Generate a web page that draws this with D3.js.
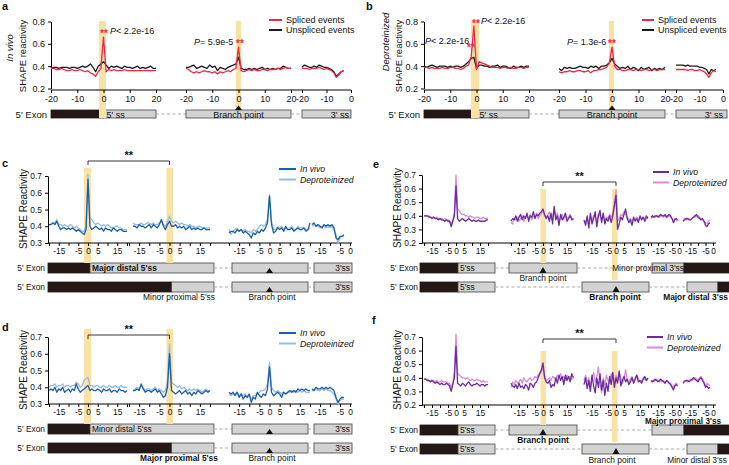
<!DOCTYPE html>
<html><head><meta charset="utf-8">
<script src="https://cdn.jsdelivr.net/npm/d3@7"></script>
<style>body{margin:0;background:#fff} text{font-family:"Liberation Sans",Arial,sans-serif}</style>
</head><body>
<script>
// ---------------- DATA ----------------
// Panel a (In vivo): positions -20..20 (seg1, seg2), -20..-3 (seg3)
const aSplicedSeg1 = [0.38,0.38,0.37,0.37,0.38,0.37,0.36,0.36,0.37,0.36,0.36,0.37,0.36,0.35,0.36,0.34,0.33,0.31,0.35,0.38,0.66,0.35,0.37,0.36,0.37,0.36,0.36,0.36,0.37,0.36,0.36,0.36,0.36,0.36,0.36,0.36,0.36,0.36,0.36,0.36,0.36];
const aUnsplicedSeg1 = [0.38,0.39,0.39,0.38,0.39,0.39,0.39,0.38,0.39,0.39,0.38,0.39,0.40,0.39,0.40,0.42,0.39,0.35,0.40,0.42,0.44,0.41,0.38,0.40,0.39,0.40,0.39,0.38,0.40,0.39,0.39,0.38,0.39,0.40,0.38,0.39,0.38,0.39,0.40,0.38,0.38];
const aSplicedSeg2 = [0.38,0.37,0.35,0.34,0.35,0.34,0.35,0.36,0.35,0.35,0.34,0.35,0.33,0.35,0.34,0.35,0.36,0.35,0.37,0.38,0.57,0.36,0.35,0.36,0.37,0.36,0.37,0.36,0.36,0.37,0.37,0.36,0.37,0.37,0.37,0.38,0.37,0.38,0.39,0.38,0.38];
const aUnsplicedSeg2 = [0.39,0.39,0.40,0.41,0.38,0.39,0.40,0.39,0.38,0.41,0.39,0.40,0.36,0.39,0.38,0.37,0.39,0.40,0.41,0.42,0.48,0.38,0.37,0.37,0.38,0.37,0.38,0.37,0.38,0.39,0.37,0.38,0.37,0.38,0.37,0.38,0.38,0.40,0.39,0.38,0.38];
const aSplicedSeg3 = [0.38,0.38,0.38,0.37,0.38,0.38,0.38,0.39,0.38,0.37,0.38,0.37,0.36,0.34,0.30,0.32,0.35,0.36];
const aUnsplicedSeg3 = [0.39,0.41,0.40,0.39,0.39,0.40,0.39,0.41,0.40,0.39,0.39,0.38,0.37,0.35,0.31,0.33,0.35,0.36];
// Panel b (Deproteinized)
const bSplicedSeg1 = [0.39,0.39,0.38,0.39,0.38,0.38,0.38,0.39,0.38,0.38,0.39,0.39,0.38,0.38,0.37,0.38,0.40,0.41,0.49,0.76,0.37,0.44,0.43,0.42,0.41,0.40,0.39,0.39,0.39,0.38,0.39,0.39,0.38,0.39,0.38,0.38,0.39,0.39,0.38,0.39,0.39];
const bUnsplicedSeg1 = [0.40,0.39,0.40,0.41,0.40,0.39,0.40,0.40,0.40,0.39,0.40,0.39,0.40,0.40,0.39,0.40,0.42,0.44,0.47,0.48,0.38,0.41,0.41,0.40,0.40,0.39,0.40,0.40,0.41,0.39,0.40,0.40,0.39,0.38,0.40,0.39,0.39,0.40,0.39,0.40,0.40];
const bSplicedSeg2 = [0.35,0.34,0.35,0.35,0.36,0.35,0.35,0.36,0.36,0.35,0.35,0.36,0.34,0.36,0.36,0.37,0.37,0.38,0.39,0.43,0.57,0.40,0.37,0.37,0.36,0.36,0.37,0.37,0.36,0.37,0.37,0.36,0.37,0.37,0.36,0.37,0.37,0.36,0.37,0.37,0.37];
const bUnsplicedSeg2 = [0.38,0.36,0.39,0.38,0.39,0.38,0.38,0.39,0.40,0.39,0.39,0.38,0.40,0.39,0.40,0.38,0.40,0.40,0.41,0.43,0.47,0.42,0.40,0.38,0.39,0.38,0.40,0.37,0.39,0.38,0.36,0.39,0.37,0.38,0.39,0.36,0.38,0.37,0.38,0.37,0.39];
const bSplicedSeg3 = [0.37,0.37,0.37,0.37,0.37,0.36,0.37,0.37,0.36,0.36,0.37,0.36,0.35,0.33,0.30,0.34,0.36,0.35];
const bUnsplicedSeg3 = [0.41,0.41,0.41,0.41,0.40,0.41,0.40,0.40,0.40,0.40,0.39,0.39,0.38,0.37,0.33,0.37,0.36,0.37];
// Panel c: seg1 -20..20, seg2 -18..20, seg3 -20..20, seg4 -19..-3
const cVivoSeg1 = [0.41,0.41,0.42,0.41,0.43,0.40,0.38,0.39,0.39,0.38,0.39,0.38,0.39,0.38,0.37,0.38,0.37,0.36,0.35,0.38,0.68,0.40,0.38,0.39,0.40,0.39,0.38,0.39,0.37,0.39,0.38,0.38,0.37,0.39,0.38,0.37,0.38,0.38,0.37,0.37,0.37];
const cDeproSeg1 = [0.41,0.41,0.42,0.42,0.44,0.41,0.41,0.40,0.41,0.40,0.40,0.41,0.40,0.39,0.40,0.39,0.38,0.37,0.37,0.40,0.71,0.45,0.44,0.42,0.41,0.42,0.41,0.40,0.41,0.40,0.41,0.40,0.39,0.39,0.40,0.40,0.39,0.39,0.38,0.38,0.38];
const cVivoSeg2 = [0.40,0.40,0.39,0.41,0.40,0.40,0.39,0.40,0.41,0.39,0.41,0.40,0.39,0.41,0.44,0.40,0.38,0.41,0.43,0.40,0.40,0.41,0.39,0.40,0.39,0.40,0.38,0.39,0.40,0.38,0.39,0.38,0.39,0.38,0.38,0.39,0.38,0.38,0.38];
const cDeproSeg2 = [0.42,0.41,0.41,0.41,0.42,0.41,0.41,0.42,0.42,0.41,0.42,0.41,0.41,0.42,0.43,0.41,0.40,0.43,0.46,0.43,0.42,0.43,0.42,0.41,0.42,0.41,0.41,0.40,0.41,0.40,0.40,0.39,0.40,0.40,0.39,0.39,0.39,0.39,0.39];
const cVivoSeg3 = [0.36,0.37,0.37,0.36,0.38,0.37,0.38,0.36,0.37,0.36,0.35,0.33,0.36,0.35,0.37,0.36,0.38,0.37,0.39,0.42,0.58,0.41,0.36,0.37,0.39,0.38,0.39,0.37,0.40,0.38,0.38,0.39,0.37,0.38,0.39,0.38,0.38,0.39,0.37,0.38,0.42];
const cDeproSeg3 = [0.38,0.35,0.37,0.38,0.39,0.37,0.38,0.37,0.38,0.37,0.37,0.36,0.38,0.37,0.38,0.40,0.41,0.40,0.41,0.44,0.59,0.43,0.38,0.38,0.40,0.39,0.40,0.38,0.39,0.38,0.39,0.40,0.38,0.38,0.40,0.39,0.39,0.39,0.38,0.38,0.39];
const cVivoSeg4 = [0.41,0.42,0.40,0.41,0.40,0.39,0.41,0.40,0.41,0.40,0.41,0.39,0.33,0.32,0.34,0.34,0.35];
const cDeproSeg4 = [0.40,0.41,0.40,0.40,0.39,0.40,0.40,0.39,0.40,0.39,0.40,0.38,0.35,0.30,0.33,0.34,0.34];
// Panel d
const dVivoSeg1 = [0.38,0.39,0.38,0.40,0.37,0.39,0.38,0.40,0.37,0.38,0.39,0.37,0.39,0.38,0.42,0.39,0.37,0.38,0.39,0.40,0.41,0.38,0.39,0.38,0.38,0.39,0.38,0.37,0.39,0.38,0.38,0.39,0.37,0.38,0.38,0.37,0.39,0.38,0.38,0.37,0.38];
const dDeproSeg1 = [0.40,0.41,0.41,0.42,0.40,0.41,0.41,0.42,0.40,0.41,0.41,0.40,0.41,0.41,0.43,0.42,0.40,0.41,0.44,0.45,0.46,0.41,0.41,0.40,0.41,0.41,0.40,0.40,0.41,0.40,0.40,0.41,0.40,0.40,0.41,0.40,0.40,0.41,0.40,0.40,0.40];
const dVivoSeg2 = [0.38,0.38,0.39,0.38,0.42,0.39,0.37,0.38,0.38,0.37,0.38,0.39,0.37,0.38,0.36,0.34,0.35,0.40,0.60,0.38,0.37,0.36,0.37,0.38,0.36,0.37,0.38,0.36,0.37,0.35,0.37,0.36,0.38,0.37,0.36,0.37,0.38,0.37,0.38];
const dDeproSeg2 = [0.38,0.39,0.40,0.39,0.41,0.40,0.38,0.39,0.39,0.38,0.39,0.40,0.38,0.39,0.38,0.37,0.38,0.44,0.66,0.43,0.42,0.41,0.40,0.41,0.39,0.40,0.39,0.38,0.39,0.38,0.39,0.38,0.39,0.38,0.37,0.38,0.39,0.38,0.38];
const dVivoSeg3 = [0.37,0.36,0.37,0.35,0.37,0.34,0.36,0.33,0.35,0.34,0.36,0.31,0.34,0.33,0.37,0.35,0.34,0.36,0.35,0.39,0.52,0.37,0.35,0.36,0.37,0.36,0.34,0.37,0.36,0.37,0.38,0.37,0.38,0.37,0.39,0.38,0.39,0.38,0.39,0.38,0.38];
const dDeproSeg3 = [0.36,0.35,0.36,0.36,0.37,0.35,0.36,0.35,0.36,0.34,0.35,0.33,0.35,0.35,0.36,0.37,0.38,0.38,0.39,0.42,0.55,0.40,0.38,0.37,0.38,0.37,0.36,0.37,0.36,0.37,0.37,0.38,0.37,0.38,0.37,0.38,0.37,0.38,0.37,0.37,0.37];
const dVivoSeg4 = [0.39,0.38,0.40,0.39,0.39,0.40,0.39,0.40,0.39,0.40,0.39,0.38,0.34,0.31,0.33,0.34,0.34];
const dDeproSeg4 = [0.38,0.38,0.39,0.38,0.38,0.39,0.38,0.39,0.38,0.38,0.37,0.36,0.33,0.30,0.32,0.33,0.33];
// Panel e: seg1 -20..20, seg2 -20..19, seg3 -20..20, seg4 -20..-1, seg5 -20..-2
const eVivoSeg1 = [0.40,0.40,0.40,0.39,0.39,0.38,0.39,0.38,0.38,0.37,0.38,0.37,0.37,0.36,0.37,0.36,0.36,0.32,0.36,0.40,0.62,0.38,0.36,0.37,0.38,0.37,0.36,0.37,0.38,0.37,0.36,0.37,0.36,0.36,0.37,0.36,0.36,0.36,0.36,0.37,0.37];
const eDeproSeg1 = [0.40,0.40,0.40,0.40,0.39,0.39,0.39,0.38,0.39,0.38,0.38,0.38,0.37,0.38,0.37,0.37,0.36,0.34,0.37,0.42,0.70,0.45,0.44,0.42,0.41,0.41,0.40,0.40,0.39,0.40,0.39,0.39,0.38,0.39,0.39,0.38,0.38,0.39,0.38,0.38,0.38];
const eVivoSeg2 = [0.36,0.38,0.37,0.40,0.36,0.39,0.41,0.37,0.40,0.38,0.42,0.36,0.40,0.39,0.43,0.38,0.41,0.40,0.42,0.43,0.45,0.41,0.38,0.40,0.36,0.42,0.34,0.47,0.37,0.40,0.33,0.41,0.37,0.39,0.42,0.36,0.38,0.40,0.37,0.38];
const eDeproSeg2 = [0.35,0.34,0.38,0.37,0.39,0.36,0.38,0.40,0.36,0.39,0.40,0.38,0.41,0.37,0.40,0.39,0.42,0.38,0.40,0.42,0.43,0.40,0.39,0.41,0.43,0.38,0.40,0.44,0.39,0.42,0.36,0.38,0.41,0.37,0.40,0.38,0.39,0.41,0.38,0.37];
const eVivoSeg3 = [0.37,0.33,0.40,0.31,0.42,0.34,0.38,0.43,0.32,0.40,0.44,0.35,0.42,0.34,0.38,0.36,0.40,0.35,0.40,0.47,0.55,0.30,0.34,0.39,0.37,0.41,0.45,0.38,0.35,0.37,0.33,0.39,0.36,0.38,0.35,0.40,0.37,0.39,0.36,0.40,0.38];
const eDeproSeg3 = [0.35,0.36,0.38,0.34,0.39,0.37,0.40,0.39,0.35,0.41,0.40,0.37,0.40,0.36,0.39,0.38,0.41,0.39,0.42,0.50,0.59,0.36,0.38,0.41,0.40,0.43,0.41,0.39,0.37,0.38,0.36,0.38,0.37,0.39,0.37,0.38,0.38,0.39,0.37,0.38,0.38];
const eVivoSeg4 = [0.39,0.40,0.39,0.40,0.40,0.39,0.40,0.41,0.40,0.40,0.41,0.39,0.40,0.41,0.40,0.38,0.35,0.37,0.38,0.37];
const eDeproSeg4 = [0.38,0.39,0.39,0.39,0.40,0.40,0.39,0.40,0.40,0.39,0.40,0.40,0.39,0.40,0.39,0.38,0.36,0.38,0.37,0.36];
const eVivoSeg5 = [0.36,0.37,0.38,0.38,0.37,0.37,0.38,0.39,0.40,0.41,0.39,0.38,0.37,0.38,0.36,0.33,0.32,0.34,0.35];
const eDeproSeg5 = [0.37,0.38,0.37,0.38,0.38,0.37,0.38,0.39,0.39,0.40,0.40,0.39,0.38,0.37,0.36,0.35,0.34,0.36,0.37];
// Panel f
const fVivoSeg1 = [0.39,0.39,0.38,0.38,0.37,0.38,0.37,0.36,0.37,0.36,0.35,0.36,0.35,0.35,0.36,0.35,0.34,0.30,0.35,0.40,0.63,0.36,0.35,0.34,0.36,0.35,0.34,0.36,0.37,0.35,0.34,0.35,0.35,0.36,0.35,0.34,0.35,0.35,0.34,0.35,0.35];
const fDeproSeg1 = [0.39,0.39,0.39,0.38,0.38,0.38,0.38,0.37,0.38,0.37,0.37,0.38,0.37,0.37,0.37,0.36,0.36,0.33,0.37,0.45,0.72,0.43,0.42,0.41,0.40,0.40,0.39,0.40,0.39,0.38,0.39,0.38,0.38,0.39,0.38,0.38,0.37,0.38,0.37,0.37,0.37];
const fVivoSeg2 = [0.36,0.34,0.33,0.35,0.32,0.36,0.33,0.34,0.32,0.35,0.34,0.31,0.36,0.35,0.33,0.36,0.37,0.40,0.43,0.46,0.51,0.40,0.37,0.36,0.38,0.33,0.35,0.34,0.40,0.36,0.42,0.38,0.41,0.35,0.42,0.38,0.41,0.37,0.43,0.40];
const fDeproSeg2 = [0.33,0.37,0.35,0.38,0.36,0.37,0.39,0.36,0.40,0.38,0.37,0.39,0.40,0.38,0.39,0.41,0.40,0.42,0.44,0.45,0.47,0.41,0.38,0.39,0.40,0.38,0.41,0.40,0.39,0.42,0.40,0.43,0.39,0.41,0.38,0.42,0.40,0.41,0.39,0.40];
const fVivoSeg3 = [0.35,0.40,0.32,0.38,0.30,0.42,0.34,0.29,0.40,0.33,0.43,0.31,0.38,0.27,0.36,0.30,0.41,0.35,0.44,0.33,0.40,0.36,0.45,0.34,0.38,0.41,0.37,0.39,0.35,0.37,0.40,0.36,0.39,0.42,0.37,0.38,0.36,0.39,0.41,0.38,0.40];
const fDeproSeg3 = [0.38,0.42,0.36,0.40,0.34,0.39,0.44,0.37,0.41,0.48,0.36,0.29,0.40,0.35,0.42,0.38,0.36,0.43,0.39,0.37,0.42,0.38,0.44,0.40,0.36,0.39,0.46,0.38,0.37,0.39,0.41,0.38,0.40,0.42,0.39,0.37,0.38,0.40,0.39,0.38,0.39];
const fVivoSeg4 = [0.38,0.37,0.38,0.39,0.38,0.37,0.38,0.39,0.38,0.37,0.36,0.38,0.37,0.36,0.35,0.33,0.31,0.34,0.35,0.34];
const fDeproSeg4 = [0.37,0.38,0.37,0.38,0.39,0.38,0.37,0.38,0.37,0.38,0.37,0.37,0.38,0.36,0.36,0.34,0.33,0.35,0.36,0.35];
const fVivoSeg5 = [0.36,0.37,0.38,0.38,0.37,0.38,0.39,0.40,0.39,0.38,0.37,0.39,0.40,0.38,0.36,0.33,0.34,0.32,0.33];
const fDeproSeg5 = [0.37,0.38,0.38,0.37,0.38,0.39,0.38,0.39,0.40,0.39,0.38,0.40,0.41,0.39,0.37,0.34,0.36,0.35,0.34];

// tick values
const ticksAB = [-20,-10,0,10,20], ticksAB3 = [-20,-10,0];
const ticksFull = [-20,-15,-10,-5,0,5,10,15,20], labelsFull = [-15,-5,0,5,15];
const ticksEnd = [-20,-15,-10,-5,0], labelsEnd = [-15,-5,0];

// ---------------- DRAWING ----------------
const RED="#ee2745", BLK="#1a1a1a", BLUE="#1c5ea7", LBLUE="#94bce5", PURP="#6a2b9e", LPURP="#d88cd8", YEL="#fae2a5";
const SM = 8.4; // small text size for c-f
const svg = d3.select("body").append("svg").attr("width",729).attr("height",465);
const L = {shapes: svg.append("g"), hl: svg.append("g"), axes: svg.append("g"), lines: svg.append("g"), text: svg.append("g")};

function txt(x, y, s, o={}) {
  const t = L.text.append("text").attr("x",x).attr("y",y).text(s).attr("font-size",o.size||10).attr("fill",o.fill||"#111");
  if (o.anchor) t.attr("text-anchor",o.anchor);
  if (o.bold) t.attr("font-weight","bold");
  if (o.italic) t.attr("font-style","italic");
  return t;
}
function pText(x, y, rest, size) {
  const t = L.text.append("text").attr("x",x).attr("y",y).attr("font-size",size||9).attr("fill","#111");
  t.append("tspan").attr("font-style","italic").text("P");
  t.append("tspan").text(rest);
}
function vText(x, y, s, o={}) {
  const t = L.text.append("text").attr("transform",`translate(${x},${y}) rotate(-90)`).attr("text-anchor","middle")
    .attr("font-size",o.size||10).attr("fill","#111").text(s);
  if (o.italic) t.attr("font-style","italic");
}

function drawPanel(P) {
  const y = d3.scaleLinear().domain(P.yDomain).range(P.yRange);
  const xs = P.segs.map(s => d3.scaleLinear().domain(s.domain).range(s.range));
  (P.hl||[]).forEach(h => {
    const x0 = xs[h.seg](0);
    L.hl.append("rect").attr("x",x0+h.dx[0]).attr("width",h.dx[1]-h.dx[0]).attr("y",h.y0).attr("height",h.y1-h.y0).attr("fill",YEL);
  });
  const ya = L.axes.append("g").attr("transform",`translate(${P.axisX},0)`)
    .call(d3.axisLeft(y).tickValues(P.yTicks).tickFormat(d3.format(".1f")).tickSize(3).tickSizeOuter(0).tickPadding(3));
  ya.selectAll("text").attr("font-size",P.fs).attr("font-family","Liberation Sans, Arial").attr("fill","#111");
  ya.select(".domain").attr("stroke","#000");
  L.axes.append("line").attr("x1",P.axisX).attr("x2",P.axisEnd).attr("y1",P.xAxisY).attr("y2",P.xAxisY).attr("stroke","#000");
  P.segs.forEach((s,i) => {
    const ax = L.axes.append("g").attr("transform",`translate(0,${P.xAxisY})`)
      .call(d3.axisBottom(xs[i]).tickValues(s.ticks).tickSize(3).tickPadding(P.tp||3)
        .tickFormat(d => (s.labels||s.ticks).includes(d) ? String(d) : ""));
    ax.select(".domain").remove();
    ax.selectAll("text").attr("font-size",P.fs).attr("font-family","Liberation Sans, Arial").attr("fill","#111");
  });
  P.series.forEach(sr => {
    sr.parts.forEach(pt => {
      const line = d3.line().x((d,j) => xs[pt.seg](pt.start + j)).y(d => y(d));
      L.lines.append("path").datum(pt.values).attr("d",line).attr("fill","none")
        .attr("stroke",sr.color).attr("stroke-width",sr.w||1.3).attr("stroke-linejoin","round");
    });
  });
  return {y, xs};
}

function box(x0, x1, y, h, fill) {
  L.shapes.append("rect").attr("x",x0).attr("y",y).attr("width",x1-x0).attr("height",h)
    .attr("fill",fill).attr("stroke", fill==="#231815" ? "#231815" : "#444").attr("stroke-width",0.8);
}
function dash(x0, x1, y) {
  L.shapes.append("line").attr("x1",x0).attr("x2",x1).attr("y1",y).attr("y2",y)
    .attr("stroke","#aaa").attr("stroke-width",1.2).attr("stroke-dasharray","3,2.5");
}
function tri(x, yTop, yBot) {
  L.text.append("path").attr("d",`M${x-3.5},${yBot}L${x+3.5},${yBot}L${x},${yTop}Z`).attr("fill","#111");
}
function legend(x, y1, y2, c1, c2, s1, s2, italic, len, size) {
  L.text.append("line").attr("x1",x).attr("x2",x+len).attr("y1",y1).attr("y2",y1).attr("stroke",c1).attr("stroke-width",2);
  L.text.append("line").attr("x1",x).attr("x2",x+len).attr("y1",y2).attr("y2",y2).attr("stroke",c2).attr("stroke-width",2);
  txt(x+len+4, y1+3.3, s1, {italic, size});
  txt(x+len+4, y2+3.3, s2, {italic, size});
}
function bracket(x0, x1, y) {
  L.text.append("path").attr("d",`M${x0},${y+4}V${y}H${x1}V${y+4}`).attr("fill","none").attr("stroke","#222").attr("stroke-width",0.9);
  txt((x0+x1)/2, y-2, "**", {anchor:"middle", bold:true, size:11});
}

// ---------- Panel a ----------
const pa = drawPanel({
  yDomain:[0.2,0.8], yRange:[88.5,21.5], yTicks:[0.2,0.4,0.6,0.8], axisX:51, axisEnd:351, xAxisY:90, fs:9,
  segs:[{domain:[-20,20],range:[51,156],ticks:ticksAB},{domain:[-20,20],range:[186,291],ticks:ticksAB},{domain:[-20,0],range:[302,351],ticks:ticksAB3}],
  hl:[{seg:0,dx:[-4.5,2.5],y0:21,y1:118},{seg:1,dx:[-2.5,2.5],y0:21,y1:110}],
  series:[
    {color:BLK, parts:[{seg:0,start:-20,values:aUnsplicedSeg1},{seg:1,start:-20,values:aUnsplicedSeg2},{seg:2,start:-20,values:aUnsplicedSeg3}]},
    {color:RED, parts:[{seg:0,start:-20,values:aSplicedSeg1},{seg:1,start:-20,values:aSplicedSeg2},{seg:2,start:-20,values:aSplicedSeg3}]}
  ]
});
txt(2, 10, "a", {bold:true, size:11});
vText(13, 48, "In vivo", {italic:true, size:9.5});
vText(26, 56, "SHAPE reactivity", {size:9.5});
legend(269, 20, 30, RED, BLK, "Spliced events", "Unspliced events", false, 13, 9);
txt(104, 37, "**", {anchor:"middle", fill:RED, bold:true, size:10});
pText(110, 34, "< 2.2e-16");
pText(194, 45, "= 5.9e-5");
txt(240, 47, "**", {anchor:"middle", fill:RED, bold:true, size:10});
txt(47, 117.5, "5' Exon", {anchor:"end", size:9.5});
box(51, pa.xs[0](0), 110, 8, "#231815");
box(pa.xs[0](0), 156, 110, 8, "#d2d2d2"); txt(pa.xs[0](0)+3, 117.5, "5' ss", {size:9});
dash(156, 186, 114);
box(186, 291, 110, 8, "#d2d2d2"); txt(pa.xs[1](0), 117.5, "Branch point", {anchor:"middle", size:9});
tri(pa.xs[1](0), 105.5, 110);
dash(291, 302, 114);
box(302, 351, 110, 8, "#d2d2d2"); txt(349, 117.5, "3' ss", {anchor:"end", size:9});

// ---------- Panel b ----------
const pb = drawPanel({
  yDomain:[0.2,0.8], yRange:[88.5,21.5], yTicks:[0.2,0.4,0.6,0.8], axisX:424, axisEnd:723, xAxisY:90, fs:9,
  segs:[{domain:[-20,20],range:[424,529],ticks:ticksAB},{domain:[-20,20],range:[559,665],ticks:ticksAB},{domain:[-20,0],range:[676,723],ticks:ticksAB3}],
  hl:[{seg:0,dx:[-5.5,2.5],y0:21,y1:118},{seg:1,dx:[-3,2],y0:21,y1:110}],
  series:[
    {color:BLK, parts:[{seg:0,start:-20,values:bUnsplicedSeg1},{seg:1,start:-20,values:bUnsplicedSeg2},{seg:2,start:-20,values:bUnsplicedSeg3}]},
    {color:RED, parts:[{seg:0,start:-20,values:bSplicedSeg1},{seg:1,start:-20,values:bSplicedSeg2},{seg:2,start:-20,values:bSplicedSeg3}]}
  ]
});
txt(366, 10, "b", {bold:true, size:11});
vText(389, 42, "Deproteinized", {italic:true, size:9.5});
vText(402, 56, "SHAPE reactivity", {size:9.5});
legend(642, 20, 30, RED, BLK, "Spliced events", "Unspliced events", false, 12, 9);
txt(476, 27, "**", {anchor:"middle", fill:RED, bold:true, size:10});
pText(481, 24, "< 2.2e-16");
pText(425, 44, "< 2.2e-16");
txt(471, 51, "**", {anchor:"middle", fill:RED, bold:true, size:10});
pText(567, 45, "= 1.3e-6");
txt(612, 47, "**", {anchor:"middle", fill:RED, bold:true, size:10});
txt(420, 117.5, "5' Exon", {anchor:"end", size:9.5});
box(424, pb.xs[0](0), 110, 8, "#231815");
box(pb.xs[0](0), 529, 110, 8, "#d2d2d2"); txt(pb.xs[0](0)+3, 117.5, "5' ss", {size:9});
dash(529, 559, 114);
box(559, 665, 110, 8, "#d2d2d2"); txt(pb.xs[1](0), 117.5, "Branch point", {anchor:"middle", size:9});
tri(pb.xs[1](0), 105.5, 110);
dash(665, 676, 114);
box(676, 727, 110, 8, "#d2d2d2"); txt(723, 117.5, "3' ss", {anchor:"end", size:9});

// ---------- Panels c / d ----------
function cdPanel(yTop, vivo, depro, opts) {
  const yb = yTop + 67;
  const p = drawPanel({
    yDomain:[0.3,0.7], yRange:[yb, yTop], yTicks:[0.3,0.4,0.5,0.6,0.7], axisX:48, axisEnd:352, xAxisY:yb, fs:SM, tp:2,
    segs:[{domain:[-20,20],range:[49,127],ticks:ticksFull,labels:labelsFull},{domain:[-20,20],range:[129,210],ticks:ticksFull,labels:labelsFull},
          {domain:[-20,20],range:[229,310],ticks:ticksFull,labels:labelsFull},{domain:[-20,0],range:[310,350],ticks:ticksEnd,labels:labelsEnd}],
    hl:[{seg:0,dx:[-4,3],y0:yTop-8,y1:opts.row1},{seg:1,dx:[-3,3.5],y0:yTop-8,y1:opts.row1}],
    series:[
      {color:LBLUE, parts:[{seg:0,start:-20,values:depro[0]},{seg:1,start:-18,values:depro[1]},{seg:2,start:-20,values:depro[2]},{seg:3,start:-19,values:depro[3]}]},
      {color:BLUE, parts:[{seg:0,start:-20,values:vivo[0]},{seg:1,start:-18,values:vivo[1]},{seg:2,start:-20,values:vivo[2]},{seg:3,start:-19,values:vivo[3]}]}
    ]
  });
  bracket(p.xs[0](0), p.xs[1](0), opts.br);
  vText(27, yTop+33, "SHAPE Reactivity", {size:10});
  legend(279, opts.lg, opts.lg+10.5, BLUE, LBLUE, "In vivo", "Deproteinized", true, 17, 8.7);
  const x0 = p.xs[0](0)+2, x1 = p.xs[1](0)+2, bp = p.xs[2](0);
  [[opts.row1, x0],[opts.row2, x1]].forEach(([ry, bx]) => {
    txt(45, ry+8, "5' Exon", {anchor:"end", size:SM});
    box(48, bx, ry, 10, "#231815");
    box(bx, 214, ry, 10, "#d2d2d2");
    dash(214, 232, ry+5);
    box(232, 308, ry, 10, "#d2d2d2");
    tri(bp, ry+5, ry+10);
    dash(308, 314, ry+5);
    box(314, 352, ry, 10, "#d2d2d2"); txt(350, ry+8.3, "3'ss", {anchor:"end", size:SM});
  });
  txt(x0+2, opts.row1+8.3, opts.row1Text, {size:SM, bold:opts.row1Bold});
  txt(179, opts.row2+18, opts.belowText, {anchor:"middle", size:SM, bold:!opts.row1Bold});
  txt(272, opts.row2+18, "Branch point", {anchor:"middle", size:SM});
  return p;
}
cdPanel(176, [cVivoSeg1,cVivoSeg2,cVivoSeg3,cVivoSeg4], [cDeproSeg1,cDeproSeg2,cDeproSeg3,cDeproSeg4],
  {row1:263, row2:282, br:161, lg:169, row1Text:"Major distal 5'ss", row1Bold:true, belowText:"Minor proximal 5'ss"});
txt(2, 167, "c", {bold:true, size:11});
cdPanel(337, [dVivoSeg1,dVivoSeg2,dVivoSeg3,dVivoSeg4], [dDeproSeg1,dDeproSeg2,dDeproSeg3,dDeproSeg4],
  {row1:424, row2:443, br:335, lg:333, row1Text:"Minor distal 5'ss", row1Bold:false, belowText:"Major proximal 5'ss"});
txt(2, 331, "d", {bold:true, size:11});

// ---------- Panels e / f ----------
function efPanel(yTop, vivo, depro, opts) {
  const yb = yTop + 68;
  const p = drawPanel({
    yDomain:[0.2,0.7], yRange:[yb, yTop], yTicks:[0.2,0.3,0.4,0.5,0.6,0.7], axisX:422, axisEnd:716, xAxisY:yb, fs:SM, tp:2,
    segs:[{domain:[-20,20],range:[424,488],ticks:ticksFull,labels:labelsFull},{domain:[-20,20],range:[511,575],ticks:ticksFull,labels:labelsFull},
          {domain:[-20,20],range:[584,648],ticks:ticksFull,labels:labelsFull},{domain:[-20,0],range:[651,679],ticks:ticksEnd,labels:labelsEnd},
          {domain:[-20,0],range:[683,713],ticks:ticksEnd,labels:labelsEnd}],
    hl:[{seg:1,dx:[-2.5,3],y0:yTop+14,y1:opts.row1},{seg:2,dx:[-4,1.5],y0:yTop+14,y1:opts.row2-2}],
    series:[
      {color:LPURP, parts:[{seg:0,start:-20,values:depro[0]},{seg:1,start:-20,values:depro[1]},{seg:2,start:-20,values:depro[2]},{seg:3,start:-20,values:depro[3]},{seg:4,start:-20,values:depro[4]}]},
      {color:PURP, parts:[{seg:0,start:-20,values:vivo[0]},{seg:1,start:-20,values:vivo[1]},{seg:2,start:-20,values:vivo[2]},{seg:3,start:-20,values:vivo[3]},{seg:4,start:-20,values:vivo[4]}]}
    ]
  });
  bracket(p.xs[1](0), p.xs[2](0), opts.br);
  vText(401, yTop+33, "SHAPE Reactivity", {size:10});
  legend(opts.lgx, opts.lg, opts.lg+10.5, PURP, LPURP, "In vivo", "Deproteinized", true, 16, 8.7);
  const r1 = opts.row1, r2 = opts.row2;
  [r1, r2].forEach(ry => {
    txt(418, ry+8, "5' Exon", {anchor:"end", size:SM});
    box(420, 458, ry, 10, "#231815");
    box(458, 495, ry, 10, "#d2d2d2"); txt(460, ry+8.3, "5'ss", {size:SM});
  });
  dash(495, 509, r1+5);
  box(509, 577, r1, 10, "#d2d2d2"); tri(p.xs[1](0), r1+4, r1+10);
  dash(577, 652, r1+5);
  box(652, 684, r1, 10, "#d2d2d2"); box(684, 735, r1, 10, "#231815");
  dash(495, 582, r2+5);
  box(582, 649, r2, 10, "#d2d2d2"); tri(p.xs[2](0), r2+4, r2+10);
  dash(649, 687, r2+5);
  box(687, 718, r2, 10, "#d2d2d2"); box(718, 735, r2, 10, "#231815");
  return p;
}
const pe = efPanel(175, [eVivoSeg1,eVivoSeg2,eVivoSeg3,eVivoSeg4,eVivoSeg5], [eDeproSeg1,eDeproSeg2,eDeproSeg3,eDeproSeg4,eDeproSeg5],
  {row1:263, row2:282, br:182, lg:172, lgx:653});
txt(373, 168, "e", {bold:true, size:11});
txt(pe.xs[1](0), 280.5, "Branch point", {anchor:"middle", size:SM});
txt(684, 271.3, "Minor proximal 3'ss", {anchor:"end", size:SM});
txt(615, 300, "Branch point", {anchor:"middle", size:SM, bold:true});
txt(728, 300, "Major distal 3'ss", {anchor:"end", size:SM, bold:true});

const pf = efPanel(337, [fVivoSeg1,fVivoSeg2,fVivoSeg3,fVivoSeg4,fVivoSeg5], [fDeproSeg1,fDeproSeg2,fDeproSeg3,fDeproSeg4,fDeproSeg5],
  {row1:425, row2:444, br:339, lg:337, lgx:647});
txt(372, 324, "f", {bold:true, size:11});
txt(721, 424, "Major proximal 3'ss", {anchor:"end", size:8.2, bold:true});
txt(pf.xs[1](0), 442.5, "Branch point", {anchor:"middle", size:SM, bold:true});
txt(612, 462.5, "Branch point", {anchor:"middle", size:SM});
txt(727, 462.5, "Minor distal 3'ss", {anchor:"end", size:SM});
</script></body></html>
